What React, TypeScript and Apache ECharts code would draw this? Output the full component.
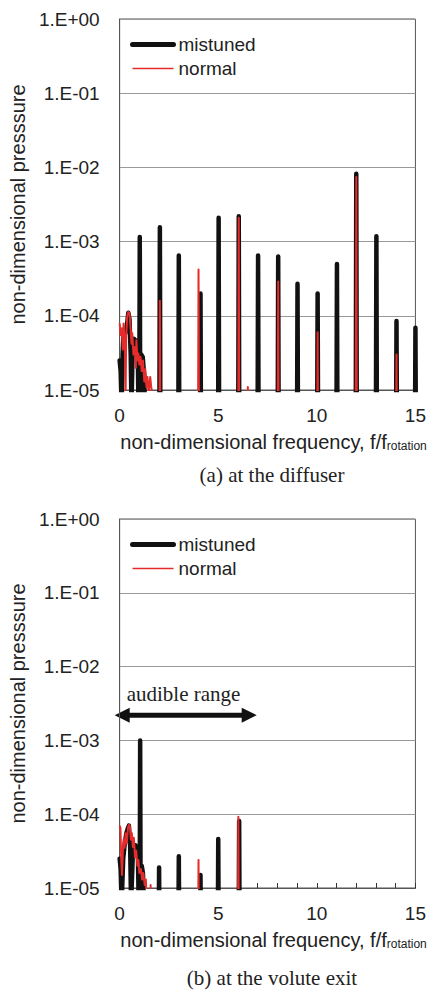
import React, { useEffect, useRef } from 'react';
import * as echarts from 'echarts';

// ---------- data ----------
const FLOOR = 1e-6; // spike foot, below the axis minimum (clipped)
const SPIKE_HALF_WIDTH = 0.03;

const Y_TICK_LABELS = ['1.E-05', '1.E-04', '1.E-03', '1.E-02', '1.E-01', '1.E+00'];
const SERIES_NAMES = ['mistuned', 'normal'];
const CAPTIONS = ['(a) at the diffuser', '(b) at the volute exit'];
const ANNOTATION = 'audible range';
const AUDIBLE_RANGE = [-0.25, 6.95];
const AUDIBLE_ARROW_LEVEL = 2.2e-3;

// (a) diffuser
const diffMistunedNoise: [number, number][] = [
  [0.0, 2.5e-5], [0.05, 1.8e-5], [0.1, 6e-6], [0.15, 3e-5], [0.2, 6e-5], [0.28, 5.8e-5],
  [0.36, 7e-5], [0.44, 1.1e-4], [0.5, 9e-5], [0.56, 3e-5], [0.6, 6e-6], [0.66, 3.5e-5],
  [0.72, 4.9e-5], [0.8, 4.7e-5], [0.86, 4e-5], [0.92, 3.2e-5], [1.1, 3e-5], [1.17, 2.8e-5],
  [1.25, 1.5e-5], [1.33, 1e-6],
];
const diffMistunedPeakFreq = [1.02, 2.04, 3.0, 4.1, 5.02, 6.04, 7.02, 8.04, 9.02, 10.04, 11.02, 12.0, 13.02, 14.04, 15.0];
const diffMistunedPeakAmp = [1.15e-3, 1.56e-3, 6.5e-4, 2.0e-4, 2.1e-3, 2.2e-3, 6.5e-4, 6.3e-4, 2.7e-4, 2.0e-4, 5.0e-4, 8.2e-3, 1.18e-3, 8.5e-5, 6.9e-5];

const diffNormalNoise: [number, number][] = [
  [0.0, 7.9e-5], [0.05, 5.5e-5], [0.11, 6.8e-5], [0.16, 3.5e-5], [0.2, 7.9e-5], [0.26, 4.5e-5],
  [0.3, 8e-6], [0.33, 5e-5], [0.38, 9.7e-5], [0.44, 1.13e-4], [0.5, 1.08e-4], [0.56, 6.5e-5],
  [0.6, 4.2e-5], [0.64, 5.8e-5], [0.7, 3e-5], [0.77, 3.8e-5], [0.82, 2e-5], [0.85, 4.7e-5],
  [0.9, 2.5e-5], [0.95, 3.1e-5], [1.0, 2.2e-5], [1.06, 2.8e-5], [1.12, 1.8e-5], [1.18, 2.5e-5],
  [1.25, 1.3e-5], [1.3, 1.9e-5], [1.36, 1.1e-5], [1.41, 1.5e-5], [1.47, 9e-6], [1.55, 1.5e-5],
  [1.6, 1.1e-5], [1.68, 8e-6], [1.75, 1e-6],
];
const diffNormalPeakFreq = [2.04, 4.0, 6.04, 6.5, 8.04, 10.04, 12.0, 14.04];
const diffNormalPeakAmp = [1.6e-4, 4.2e-4, 2.1e-3, 1.1e-5, 2.9e-4, 6e-5, 7.4e-3, 3e-5];

// (b) volute exit
const voluteMistunedNoise: [number, number][] = [
  [0.0, 2.5e-5], [0.05, 1.8e-5], [0.1, 6e-6], [0.18, 2.5e-5], [0.26, 4e-5], [0.34, 5.5e-5],
  [0.42, 6.5e-5], [0.47, 7e-5], [0.53, 4e-5], [0.58, 6e-6], [0.66, 2.5e-5], [0.72, 3.2e-5],
  [0.8, 3.8e-5], [0.87, 3.5e-5], [0.93, 2.5e-5], [1.12, 2e-5], [1.18, 1.6e-5], [1.24, 6e-6],
];
const voluteMistunedPeakFreq = [1.04, 2.0, 3.0, 4.1, 5.0, 6.06];
const voluteMistunedPeakAmp = [1.0e-3, 1.9e-5, 2.7e-5, 1.5e-5, 4.6e-5, 8.1e-5];

const voluteNormalNoise: [number, number][] = [
  [0.0, 7e-5], [0.04, 6.5e-5], [0.08, 2.5e-5], [0.12, 1.5e-5], [0.16, 3e-5], [0.2, 4.5e-5],
  [0.25, 3.5e-5], [0.3, 5.5e-5], [0.36, 4e-5], [0.42, 6.5e-5], [0.47, 7.2e-5], [0.52, 6.8e-5],
  [0.57, 4.5e-5], [0.62, 5.5e-5], [0.67, 3.6e-5], [0.72, 4.8e-5], [0.78, 2.6e-5], [0.84, 3.2e-5],
  [0.9, 2e-5], [0.95, 2.4e-5], [1.0, 1.6e-5], [1.08, 1.8e-5], [1.14, 1.3e-5], [1.2, 1.6e-5],
  [1.27, 1.1e-5], [1.33, 1.3e-5], [1.38, 5e-6],
];
const voluteNormalPeakFreq = [1.57, 4.0, 6.02];
const voluteNormalPeakAmp = [1.1e-5, 2.4e-5, 9.2e-5];

// ---------- helpers ----------
function buildLine(noise: [number, number][], freqs: number[], amps: number[]): [number, number][] {
  const pts: [number, number][] = noise.map((p) => [p[0], p[1]]);
  freqs.forEach((f, i) => {
    pts.push([f - SPIKE_HALF_WIDTH, FLOOR]);
    pts.push([f, amps[i]]);
    pts.push([f + SPIKE_HALF_WIDTH, FLOOR]);
  });
  pts.sort((a, b) => a[0] - b[0]);
  return pts;
}

const SANS = '"Liberation Sans", Arial, sans-serif';
const SERIF = '"Liberation Serif", "Times New Roman", serif';
const TEXT = '#222';
const BLACK = '#111';
const RED = '#e52b2b';

export default function App() {
  const ref = useRef<HTMLDivElement>(null);

  useEffect(() => {
    document.body.style.margin = '0';
    if (!ref.current) return;
    const chart = echarts.init(ref.current, undefined, { renderer: 'svg' });

    const grids = [
      { left: 111, right: 9, top: 19, height: 371 },
      { left: 111, right: 9, top: 519, height: 369 },
    ];

    const xAxis = [0, 1].map((i) => ({
      gridIndex: i,
      type: 'value',
      min: 0,
      max: 15,
      interval: 5,
      axisLine: { show: true, lineStyle: { color: '#555', width: 1 } },
      axisTick: { show: true, inside: true, length: 5, lineStyle: { color: '#333' } },
      minorTick: { show: true, splitNumber: 5, length: 5, lineStyle: { color: '#333' } },
      splitLine: { show: false },
      axisLabel: { fontFamily: SANS, fontSize: 19, color: TEXT, margin: 16 },
      name: '{n|non-dimensional frequency, f/f}{s|rotation}',
      nameLocation: 'middle',
      nameGap: 40,
      nameTextStyle: {
        fontFamily: SANS,
        color: TEXT,
        padding: [0, 0, 0, 12],
        rich: {
          n: { fontFamily: SANS, fontSize: 20, color: TEXT, lineHeight: 22, verticalAlign: 'bottom' },
          s: { fontFamily: SANS, fontSize: 12, color: TEXT, lineHeight: 12, verticalAlign: 'bottom' },
        },
      },
    }));

    const yAxis = [0, 1].map((i) => ({
      gridIndex: i,
      type: 'log',
      logBase: 10,
      min: 1e-5,
      max: 1,
      splitNumber: 5,
      axisLine: { show: true, lineStyle: { color: '#555', width: 1 } },
      axisTick: { show: false },
      splitLine: { show: true, lineStyle: { color: '#999', width: 1 } },
      axisLabel: {
        fontFamily: SANS,
        fontSize: 19,
        color: TEXT,
        margin: 20,
        formatter: (v: number) => Y_TICK_LABELS[Math.round(Math.log10(v)) + 5] ?? '',
      },
      name: 'non-dimensional presssure',
      nameLocation: 'middle',
      nameGap: 82,
      nameTextStyle: { fontFamily: SANS, fontSize: 20, color: TEXT },
    }));

    const lines = [
      buildLine(diffMistunedNoise, diffMistunedPeakFreq, diffMistunedPeakAmp),
      buildLine(diffNormalNoise, diffNormalPeakFreq, diffNormalPeakAmp),
      buildLine(voluteMistunedNoise, voluteMistunedPeakFreq, voluteMistunedPeakAmp),
      buildLine(voluteNormalNoise, voluteNormalPeakFreq, voluteNormalPeakAmp),
    ];

    const series = lines.map((data, k) => {
      const g = k < 2 ? 0 : 1;
      const isMistuned = k % 2 === 0;
      return {
        type: 'line',
        name: isMistuned ? SERIES_NAMES[0] : SERIES_NAMES[1],
        xAxisIndex: g,
        yAxisIndex: g,
        data,
        symbol: 'none',
        showSymbol: false,
        clip: true,
        silent: true,
        z: isMistuned ? 2 : 3,
        lineStyle: isMistuned
          ? { color: BLACK, width: 4.5, join: 'round', cap: 'round' }
          : { color: RED, width: 2, join: 'round' },
        itemStyle: { color: isMistuned ? BLACK : RED },
      };
    });

    const legendTops = [30, 530];
    const legend = legendTops.map((top) => ({
      left: 125,
      top,
      orient: 'vertical',
      itemWidth: 41,
      itemHeight: 14,
      itemGap: 5,
      selectedMode: false,
      itemStyle: { opacity: 0 },
      textStyle: { fontFamily: SANS, fontSize: 19, color: TEXT, lineHeight: 19 },
      data: [
        { name: SERIES_NAMES[0], itemStyle: { opacity: 0 }, lineStyle: { color: BLACK, width: 5, cap: 'round' } },
        { name: SERIES_NAMES[1], itemStyle: { opacity: 0 }, lineStyle: { color: RED, width: 1.5 } },
      ],
    }));

    chart.setOption({
      animation: false,
      backgroundColor: '#fff',
      grid: grids.map((g) => ({ ...g, show: true, borderColor: '#555', borderWidth: 1, backgroundColor: 'transparent' })),
      xAxis,
      yAxis,
      legend,
      series,
    });

    // annotation: audible range arrow on the second chart
    const pl = chart.convertToPixel({ gridIndex: 1 }, [AUDIBLE_RANGE[0], AUDIBLE_ARROW_LEVEL]) as number[];
    const pr = chart.convertToPixel({ gridIndex: 1 }, [AUDIBLE_RANGE[1], AUDIBLE_ARROW_LEVEL]) as number[];
    const p0 = chart.convertToPixel({ gridIndex: 1 }, [0, AUDIBLE_ARROW_LEVEL]) as number[];
    const y = pl[1];
    const head = 15;
    const half = 7.5;
    chart.setOption({
      graphic: [
        {
          type: 'line',
          shape: { x1: pl[0] + head - 2, y1: y, x2: pr[0] - head + 2, y2: y },
          style: { stroke: BLACK, lineWidth: 5 },
          silent: true,
        },
        {
          type: 'polygon',
          shape: { points: [[pl[0], y], [pl[0] + head, y - half], [pl[0] + head, y + half]] },
          style: { fill: BLACK },
          silent: true,
        },
        {
          type: 'polygon',
          shape: { points: [[pr[0], y], [pr[0] - head, y - half], [pr[0] - head, y + half]] },
          style: { fill: BLACK },
          silent: true,
        },
        {
          type: 'text',
          x: p0[0] + 7,
          y: y - 21,
          style: { text: ANNOTATION, font: `21px ${SERIF}`, fill: TEXT, textAlign: 'left', textVerticalAlign: 'middle' },
          silent: true,
        },
        {
          type: 'text',
          x: 272,
          y: 475,
          style: { text: CAPTIONS[0], font: `21px ${SERIF}`, fill: TEXT, textAlign: 'center', textVerticalAlign: 'middle' },
          silent: true,
        },
        {
          type: 'text',
          x: 272,
          y: 978,
          style: { text: CAPTIONS[1], font: `21px ${SERIF}`, fill: TEXT, textAlign: 'center', textVerticalAlign: 'middle' },
          silent: true,
        },
      ],
    });

    return () => {
      chart.dispose();
    };
  }, []);

  return <div ref={ref} style={{ width: 429, height: 990 }} />;
}
